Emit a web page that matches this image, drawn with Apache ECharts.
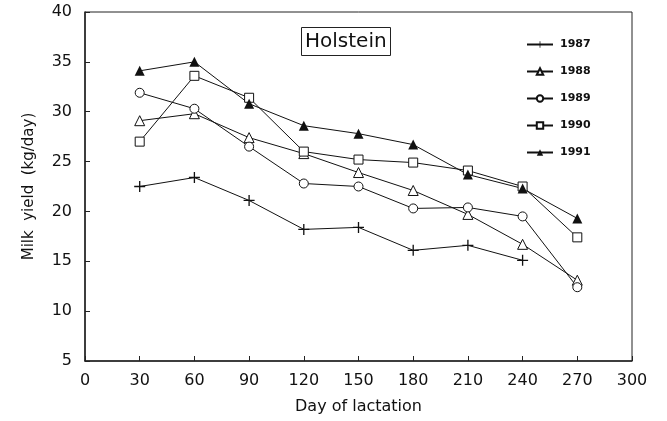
<!DOCTYPE html>
<html lang="en">
<head>
	<meta charset="UTF-8">
	<title>Holstein</title>
	<script src="https://cdn.jsdelivr.net/npm/echarts@6/dist/echarts.min.js"></script>
	<style>
		html, body { margin: 0; padding: 0; background: #fff; }
	</style>
</head>
<body>
	<div id="main" style="width: 667px;height:421px;"></div>
<script type="text/javascript">
	// data
	var days = [30, 60, 90, 120, 150, 180, 210, 240, 270];
	var y1987 = [22.5, 23.4, 21.1, 18.2, 18.4, 16.1, 16.6, 15.1];
	var y1988 = [29.1, 29.8, 27.4, 25.8, 23.9, 22.1, 19.7, 16.7, 13.1];
	var y1989 = [31.9, 30.3, 26.5, 22.8, 22.5, 20.3, 20.4, 19.5, 12.4];
	var y1990 = [27.0, 33.6, 31.4, 26.0, 25.2, 24.9, 24.1, 22.5, 17.4];
	var y1991 = [34.1, 35.0, 30.8, 28.6, 27.8, 26.7, 23.7, 22.3, 19.3];
	var yTicks = [5, 40, 5];   // min, max, step
	var xTicks = [0, 300, 30];

	var plus = 'path://M4.4,0H5.6V4.4H10V5.6H5.6V10H4.4V5.6H0V4.4H4.4Z';

	function pairs(vals){
		var out = [];
		for(var i=0;i<vals.length;i++){
			out.push([days[i], vals[i]]);
		}
		return out;
	}

	function mk(name, vals, symbol, size, fill){
		return {
			name: name,
			type: 'line',
			data: pairs(vals),
			symbol: symbol,
			symbolSize: size,
			showAllSymbol: true,
			lineStyle: { color: '#111', width: 1 },
			itemStyle: { color: fill, borderColor: '#111', borderWidth: fill == '#111' ? 0 : 1 },
			emphasis: { disabled: true },
			z: 3
		};
	}

	var myChart = echarts.init(document.getElementById('main'));
	myChart.setOption({
		backgroundColor: '#fff',
		animation: false,
		textStyle: { fontFamily: 'DejaVu Sans', color: '#111' },
		title: {
			text: 'Holstein',
			left: 301,
			top: 27,
			padding: [5, 4, 4, 4],
			borderColor: '#222',
			borderWidth: 1,
			textStyle: { fontFamily: 'DejaVu Sans', fontSize: 20, fontWeight: 'normal', color: '#111' }
		},
		legend: {
			orient: 'vertical',
			left: 521,
			top: 34,
			itemWidth: 26,
			itemHeight: 8,
			itemGap: 16,
			data: ['1987', '1988', '1989', '1990', '1991'],
			textStyle: { fontFamily: 'DejaVu Sans', fontSize: 11, fontWeight: 'bold', color: '#111', padding: [0, 0, 0, 2] }
		},
		grid: {
			left: 85,
			right: 35,
			top: 12,
			bottom: 60,
			show: true,
			borderColor: '#222',
			borderWidth: 1
		},
		xAxis: {
			type: 'value',
			min: xTicks[0],
			max: xTicks[1],
			interval: xTicks[2],
			name: 'Day of lactation',
			nameLocation: 'middle',
			nameGap: 38,
			nameTextStyle: { fontSize: 16, color: '#111' },
			axisLine: { lineStyle: { color: '#222', width: 1.5 } },
			axisTick: { inside: true, length: 5, lineStyle: { color: '#222' } },
			axisLabel: { fontSize: 16, color: '#111', margin: 12 },
			splitLine: { show: false }
		},
		yAxis: {
			type: 'value',
			min: yTicks[0],
			max: yTicks[1],
			interval: yTicks[2],
			name: 'Milk  yield  (kg/day)',
			nameLocation: 'middle',
			nameGap: 48,
			nameTextStyle: { fontSize: 15, color: '#111' },
			axisLine: { show: true, lineStyle: { color: '#222', width: 1.5 } },
			axisTick: { show: true, inside: true, length: 5, lineStyle: { color: '#222' } },
			axisLabel: { fontSize: 16, color: '#111', margin: 13 },
			splitLine: { show: false }
		},
		series: [
			mk('1987', y1987, plus, 11, '#111'),
			mk('1988', y1988, 'triangle', 10, '#fff'),
			mk('1989', y1989, 'circle', 9, '#fff'),
			mk('1990', y1990, 'rect', 9, '#fff'),
			mk('1991', y1991, 'triangle', 10, '#111')
		]
	});
</script>
</body>
</html>
